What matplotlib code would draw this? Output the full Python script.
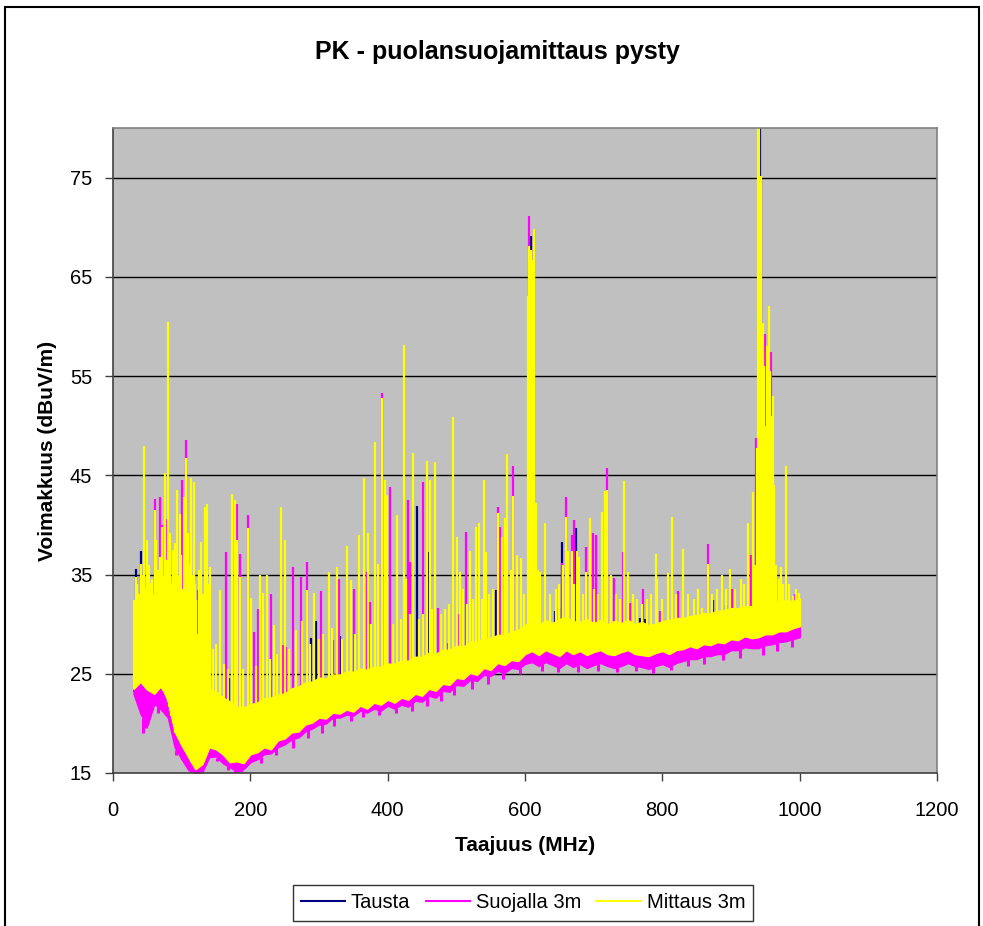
import numpy as np
import matplotlib
matplotlib.use("Agg")
import matplotlib.pyplot as plt
from matplotlib.lines import Line2D
from matplotlib.patches import Rectangle

plt.rcParams['font.family'] = ['Liberation Sans', 'DejaVu Sans']

# ---------------- data ----------------
title = "PK - puolansuojamittaus pysty"
x_label = "Taajuus (MHz)"
y_label = "Voimakkuus (dBuV/m)"
series_names = ["Tausta", "Suojalla 3m", "Mittaus 3m"]
x_ticks = [0, 200, 400, 600, 800, 1000, 1200]
y_ticks = [15, 25, 35, 45, 55, 65, 75]

freq_bins = list(range(30, 1001, 10))

# noise floor envelope (low / high) per 10 MHz bin
mittaus_lo = [23.5, 24.2, 23.4, 23.0, 23.8, 22.3, 19.2, 17.8, 16.6, 15.4, 15.9,
              17.6, 17.4, 16.9, 16.1, 16.2, 16.0, 16.9, 17.1, 17.6, 17.4,
              18.3, 18.5, 19.1, 19.2, 19.9, 20.1, 20.6, 20.5, 21.1, 21.0,
              21.4, 21.2, 21.8, 21.5, 22.1, 21.9, 22.4, 22.1, 22.6, 22.4,
              23.0, 22.8, 23.5, 23.3, 24.0, 23.9, 24.6, 24.5, 25.1, 24.9,
              25.6, 25.4, 26.1, 25.9, 26.4, 26.3, 27.0, 27.3, 26.9, 27.4,
              27.1, 26.8, 27.4, 27.0, 27.3, 26.9, 27.2, 27.4, 27.0, 26.9,
              27.2, 27.4, 27.0, 26.9, 26.8, 27.1, 27.3, 27.0, 27.4, 27.5,
              27.8, 27.6, 28.0, 27.9, 28.2, 28.1, 28.5, 28.4, 28.8, 28.6,
              28.7, 29.0, 29.0, 29.3, 29.3, 29.6, 29.8]
mittaus_hi = [31.5, 32.0, 30.5, 31.8, 30.2, 31.0, 29.0, 28.2, 26.8, 25.0, 24.2,
              23.6, 23.2, 22.6, 22.2, 21.7, 21.6, 21.9, 22.1, 22.5, 22.6,
              22.9, 23.0, 23.5, 23.7, 24.1, 24.2, 24.6, 24.5, 24.9, 24.9,
              25.2, 25.2, 25.5, 25.4, 25.7, 25.7, 26.0, 26.0, 26.3, 26.3,
              26.7, 26.7, 27.1, 27.0, 27.4, 27.4, 27.8, 27.7, 28.2, 28.2,
              28.6, 28.6, 28.9, 28.9, 29.2, 29.4, 29.9, 30.3, 29.9, 30.4,
              30.1, 30.5, 30.7, 30.3, 30.2, 30.5, 30.1, 30.4, 30.0, 30.3,
              30.1, 30.4, 30.0, 30.2, 29.9, 30.0, 30.3, 30.4, 30.6, 30.6,
              30.8, 30.9, 31.1, 31.1, 31.3, 31.4, 31.6, 31.6, 31.8, 31.8,
              32.0, 32.3, 32.0, 32.4, 32.4, 32.3, 32.6]
suojalla_lo = [23.0, 21.0, 19.8, 22.0, 21.4, 20.6, 17.6, 16.4, 15.3, 15.0, 15.1,
               16.6, 16.7, 16.0, 15.6, 15.2, 15.4, 16.1, 16.4, 16.9, 17.0,
               17.6, 17.9, 18.4, 18.6, 19.2, 19.5, 19.9, 20.0, 20.6, 20.6,
               20.9, 20.8, 21.3, 21.1, 21.5, 21.3, 21.8, 21.5, 21.9, 21.7,
               22.3, 22.2, 22.8, 22.6, 23.3, 23.2, 23.9, 23.8, 24.4, 24.3,
               24.9, 24.8, 25.3, 25.1, 25.6, 25.5, 26.0, 26.2, 25.8, 26.2,
               25.9, 25.6, 26.1, 25.7, 26.0, 25.6, 25.9, 26.1, 25.8, 25.6,
               25.8, 26.1, 25.8, 25.7, 25.5, 25.8, 26.0, 25.7, 26.1, 26.3,
               26.5, 26.5, 26.8, 26.8, 27.0, 27.0, 27.4, 27.4, 27.7, 27.6,
               27.6, 27.9, 28.0, 28.2, 28.3, 28.5, 28.7]
suojalla_hi = [30.5, 30.0, 29.5, 30.0, 29.0, 29.5, 27.0, 26.0, 24.5, 23.0, 22.5,
               22.0, 21.8, 21.2, 20.8, 20.5, 20.5, 20.8, 21.0, 21.4, 21.5,
               21.8, 22.0, 22.4, 22.6, 23.0, 23.2, 23.5, 23.5, 23.9, 23.9,
               24.1, 24.2, 24.4, 24.4, 24.6, 24.7, 24.9, 25.0, 25.2, 25.3,
               25.6, 25.7, 26.0, 26.0, 26.4, 26.4, 26.8, 26.7, 27.1, 27.2,
               27.5, 27.6, 27.8, 27.9, 28.1, 28.3, 28.7, 29.0, 28.7, 29.1,
               28.9, 29.2, 29.4, 29.0, 29.0, 29.2, 28.9, 29.1, 28.8, 29.0,
               28.9, 29.1, 28.8, 28.9, 28.7, 28.8, 29.0, 29.1, 29.3, 29.4,
               29.6, 29.7, 29.9, 29.9, 30.1, 30.2, 30.4, 30.4, 30.6, 30.6,
               30.8, 31.0, 30.8, 31.1, 31.2, 31.1, 31.3]
tausta_lo = [23.3, 23.6, 23.0, 22.6, 23.2, 21.2, 17.9, 16.8, 15.8, 15.2, 15.4,
             17.0, 17.0, 16.4, 15.8, 15.7, 15.8, 16.6, 16.9, 17.4, 17.3,
             18.1, 18.4, 18.9, 19.1, 19.8, 20.0, 20.5, 20.4, 21.0, 20.9,
             21.3, 21.1, 21.7, 21.4, 22.0, 21.8, 22.3, 22.0, 22.5, 22.3,
             22.9, 22.7, 23.4, 23.2, 23.9, 23.8, 24.5, 24.4, 25.0, 24.8,
             25.5, 25.3, 26.0, 25.8, 26.3, 26.2, 26.9, 27.2, 26.8, 27.3,
             27.0, 26.7, 27.3, 26.9, 27.2, 26.8, 27.1, 27.3, 26.9, 26.8,
             27.1, 27.3, 26.9, 26.8, 26.7, 27.0, 27.2, 26.9, 27.3, 27.4,
             27.7, 27.5, 27.9, 27.8, 28.1, 28.0, 28.4, 28.3, 28.7, 28.5,
             28.3, 28.9, 28.9, 29.2, 29.2, 29.5, 29.7]
tausta_hi = [31.8, 32.3, 30.3, 31.5, 30.0, 30.8, 29.5, 28.5, 27.0, 25.2, 24.5,
             23.4, 23.0, 22.4, 22.0, 21.5, 21.4, 21.7, 21.9, 22.3, 22.4,
             22.7, 22.8, 23.3, 23.5, 23.9, 24.0, 24.4, 24.3, 24.7, 24.7,
             25.0, 25.0, 25.3, 25.2, 25.5, 25.5, 25.8, 25.8, 26.1, 26.1,
             26.5, 26.5, 26.9, 26.8, 27.2, 27.2, 27.6, 27.5, 28.0, 28.0,
             28.4, 28.4, 28.7, 28.7, 29.0, 29.2, 29.7, 30.1, 29.7, 30.2,
             29.9, 30.3, 30.5, 30.1, 30.0, 30.3, 29.9, 30.2, 29.8, 30.1,
             29.9, 30.2, 29.8, 30.0, 29.7, 29.8, 30.1, 30.2, 30.4, 30.4,
             30.6, 30.7, 30.9, 30.9, 31.1, 31.2, 31.4, 31.4, 31.6, 31.6,
             31.8, 32.1, 31.8, 32.2, 32.2, 32.1, 32.4]

# narrow-band peaks (frequency MHz, level dBuV/m)
tausta_spike_f = [33, 40.3, 73, 92, 97, 104, 121, 169, 289, 295.6, 330.5, 443.2,
                  459.2, 557.3, 608.2, 643.7, 650, 653.4, 674.2, 767.4, 774.7,
                  844, 850, 874, 892.7, 919.4, 942.5, 943.5, 961.6]
tausta_spike_v = [35.6, 37.4, 33.4, 21.0, 20.5, 19.5, 28.0, 24.6, 28.6, 30.3, 28.8,
                  41.9, 37.3, 33.4, 69.1, 31.3, 31.6, 38.3, 39.7, 30.6, 30.5,
                  30.7, 30.7, 32.4, 31.9, 31.7, 85.0, 75.0, 32.2]

suojalla_spike_f = [60.7, 68, 72, 77.7, 101, 106, 124, 164, 180.6, 184.5, 196.6,
                    205, 211, 229.6, 247.6, 252, 262, 274, 282.5, 302.9, 320.8,
                    328.6, 351, 369.4, 374.2, 391.2, 403.4, 429, 432.5, 451.9,
                    473.7, 487.3, 502.9, 514, 560, 563.6, 583, 605.8, 611.1,
                    613.6, 653.4, 659.2, 668.9, 671.3, 688.8, 699.5, 703.4,
                    718.9, 730, 742.2, 752.9, 772.3, 796.6, 822.3, 866, 901,
                    928.6, 936.6, 950, 958, 973.7, 993]
suojalla_spike_v = [42.6, 42.8, 40.0, 40.6, 44.5, 48.6, 33.4, 37.3, 42.1, 37.1, 41.0,
                    29.2, 31.5, 33.0, 27.9, 27.7, 35.8, 34.8, 36.3, 33.3, 28.4,
                    34.6, 33.5, 35.3, 32.2, 53.3, 43.8, 42.5, 36.3, 44.3,
                    31.6, 28.1, 31.0, 39.3, 41.8, 39.8, 45.9, 71.1, 57.7,
                    69.8, 36.2, 42.8, 39.0, 40.5, 37.8, 39.2, 39.0,
                    45.7, 34.7, 37.3, 32.1, 33.5, 31.3, 33.3, 38.1, 33.5,
                    37.0, 48.8, 59.2, 57.4, 32.8, 33.0]
# short downward dips of the Suojalla noise floor
suojalla_dip_f = [44, 48, 57, 66, 92, 113, 128, 152, 168, 177, 186, 215, 238,
                  262, 284, 305, 322, 347, 364, 388, 412, 436, 457, 478, 497,
                  523, 546, 568, 592, 625, 648, 677, 706, 734, 762, 786, 812,
                  838, 861, 889, 913, 946, 967, 989]
suojalla_dip_v = [19.0, 19.5, 21.5, 21.0, 16.8, 15.0, 15.0, 16.2, 15.3, 15.0,
                  15.1, 16.0, 16.8, 17.5, 18.5, 19.0, 19.7, 20.2, 20.6, 20.8,
                  21.0, 21.2, 21.8, 22.3, 22.9, 23.5, 24.0, 24.5, 25.0, 25.3,
                  25.2, 25.2, 25.3, 25.2, 25.3, 25.1, 25.4, 25.8, 26.0, 26.4,
                  26.6, 26.9, 27.3, 27.7]

mittaus_spike_f = [30, 31.5, 33, 35, 36.5, 38, 40.3, 42, 43.5, 45, 46.5, 48, 50,
                   51, 52, 54, 55.5, 57, 58.5, 60.7, 62, 63, 65, 66.5, 68, 70,
                   71, 72, 73.5, 75, 76.5, 78, 80.6, 82, 83.5, 85, 86, 87.4,
                   88.5, 89.8, 91, 93.2, 95, 96, 97, 99, 100.5, 103, 104.5, 106,
                   107.5, 109, 111, 112.5, 114, 115.5, 117.5, 119, 121, 123,
                   125, 127, 128.6, 131, 133.5, 135, 137, 139, 141, 145, 150,
                   156, 162, 168, 173.8, 177, 181, 184.5, 190, 196.6, 201.4,
                   208, 213.6, 218.4, 224, 229, 234, 239, 244, 250, 256, 267,
                   274.7, 282, 287, 292.7, 300, 306, 315, 318.4, 325.7, 333,
                   340.3, 346, 352, 358.7, 366, 370.8, 376, 381, 385.4, 391.2,
                   396, 399.5, 408, 414, 419, 424.2, 426.7, 432, 437.3, 446,
                   451, 456.7, 461.6, 465, 469.4, 478, 484, 490, 494.6, 500.4,
                   505.3, 510, 515, 520, 524, 528, 533, 537, 540.2, 542.7, 548,
                   553, 560, 566, 570.8, 573.3, 579, 583, 588.8, 593.7, 598,
                   603.9, 605.3, 606.8, 608.2, 609.7, 611.1, 612.6, 613.6,
                   615.5, 618.4, 621.8, 629, 636, 645, 650, 655.8, 659.2, 663,
                   667.9, 672, 676.2, 679, 684, 688.8, 694.6, 700, 706, 711.6,
                   716.5, 719, 724.7, 732, 738, 744.6, 750.4, 757, 763, 770,
                   778, 784, 790.3, 792.7, 800, 807.7, 813.6, 820, 830.5, 838,
                   846, 852, 858.2, 866, 872, 880, 886.4, 893, 899, 906, 914,
                   919, 924.2, 931.5, 935, 938, 940, 941.2, 944, 946, 948, 950,
                   952, 955, 957, 959, 961, 963, 966, 970, 972.3, 976, 980, 985,
                   990.7, 995, 999]
mittaus_spike_v = [32.4, 30.0, 34.8, 34.0, 31.0, 33.0, 36.1, 35.0, 32.0, 48.0, 32.5,
                   33.5, 38.5, 31.5, 36.0, 34.1, 31.0, 34.5, 33.0, 41.5, 32.5,
                   38.5, 35.5, 33.0, 36.8, 33.8, 31.5, 39.8, 35.0, 45.2, 33.5,
                   36.5, 60.4, 33.0, 39.2, 34.0, 31.5, 37.5, 33.0, 38.2, 36.0,
                   43.5, 35.0, 32.0, 41.1, 37.0, 33.5, 42.8, 34.0, 46.7, 32.5,
                   39.2, 36.0, 31.0, 44.7, 35.0, 44.3, 34.0, 32.4, 29.0, 35.5,
                   30.5, 38.3, 33.0, 41.8, 30.0, 42.1, 34.0, 35.8, 27.5, 28.0,
                   33.4, 26.0, 25.5, 43.1, 42.5, 38.5, 34.8, 25.5, 39.7, 32.6,
                   25.8, 35.0, 33.1, 35.0, 26.5, 29.9, 27.0, 41.8, 38.5, 27.5,
                   29.4, 30.3, 33.4, 28.0, 33.1, 28.5, 29.0, 35.3, 29.6, 35.8,
                   28.5, 37.9, 34.4, 29.0, 39.0, 44.7, 39.2, 30.0, 48.4, 36.1,
                   52.8, 44.5, 43.0, 30.0, 41.0, 30.5, 58.1, 34.6, 31.0, 47.2,
                   30.5, 31.0, 46.4, 44.5, 31.5, 46.3, 31.0, 31.5, 32.0, 50.9,
                   38.8, 35.3, 33.5, 32.0, 37.4, 32.5, 39.8, 40.2, 32.5, 44.5,
                   37.3, 33.0, 33.5, 41.2, 38.8, 40.7, 47.1, 35.5, 42.9, 37.0,
                   36.7, 33.0, 63.1, 68.1, 66.0, 67.7, 66.7, 64.4, 68.7, 69.8,
                   42.2, 35.5, 35.3, 40.2, 33.0, 33.5, 34.0, 36.0, 40.8, 37.4,
                   37.4, 34.0, 37.4, 36.8, 33.0, 35.3, 40.7, 33.5, 33.0, 41.3,
                   43.4, 43.5, 35.0, 33.0, 32.5, 44.4, 35.3, 33.0, 32.5, 32.0,
                   32.5, 33.0, 37.1, 34.5, 32.5, 35.2, 40.8, 33.0, 37.6, 33.0,
                   32.5, 33.5, 31.6, 36.1, 33.0, 33.5, 35.0, 33.5, 35.6, 33.5,
                   34.6, 34.0, 40.2, 43.3, 36.0, 47.8, 85.0, 85.0, 75.2, 60.3,
                   56.0, 50.0, 58.0, 62.1, 55.5, 51.0, 53.0, 44.0, 36.0, 34.5,
                   35.8, 34.0, 45.9, 34.0, 32.8, 33.5, 33.1]

# ---------------- figure ----------------
W, H = 983, 926
fig = plt.figure(figsize=(W / 100, H / 100), dpi=100)
fig.patch.set_facecolor("white")

# outer chart border
fig.patches.append(Rectangle((5 / W, -0.01), (979 - 5) / W, 1 - 7 / H + 0.01,
                             transform=fig.transFigure, fill=False,
                             edgecolor="black", lw=1.5))

ax = fig.add_axes([113 / W, 1 - 773 / H, (937 - 113) / W, (773 - 128) / H])
ax.set_facecolor("#C0C0C0")
ax.set_xlim(0, 1200)
ax.set_ylim(15, 80)

for yv in y_ticks[1:]:
    ax.axhline(yv, color="black", lw=1.0, zorder=1)

colors = {"Tausta": "#000080", "Suojalla 3m": "#FF00FF", "Mittaus 3m": "#FFFF00"}
series = [
    ("Tausta", tausta_lo, tausta_hi, tausta_spike_f, tausta_spike_v, [], []),
    ("Suojalla 3m", suojalla_lo, suojalla_hi, suojalla_spike_f, suojalla_spike_v,
     suojalla_dip_f, suojalla_dip_v),
    ("Mittaus 3m", mittaus_lo, mittaus_hi, mittaus_spike_f, mittaus_spike_v, [], []),
]
fb = np.array(freq_bins, dtype=float)
z = 2
for name, lo, hi, sf, sv, df, dv in series:
    c = colors[name]
    lo = np.array(lo)
    hi = np.array(hi)
    ax.fill_between(fb, lo, hi, color=c, lw=1.2, edgecolor=c, zorder=z)
    sf = np.array(sf, dtype=float)
    ax.vlines(sf, np.interp(sf, fb, lo), np.array(sv), colors=c, lw=1.6,
              zorder=z + 0.5)
    if len(df):
        df = np.array(df, dtype=float)
        ax.vlines(df, np.array(dv), np.interp(df, fb, lo), colors=c, lw=2.2,
                  zorder=z + 0.5)
    z += 1

ax.set_xticks(x_ticks)
ax.set_yticks(y_ticks)
ax.tick_params(axis="both", direction="out", length=6, width=1, color="#404040",
               labelsize=14.5, labelcolor="black")
ax.tick_params(axis="x", pad=14)
ax.tick_params(axis="y", pad=9)
for s in ["top", "right"]:
    ax.spines[s].set_color("#808080")
for s in ["bottom", "left"]:
    ax.spines[s].set_color("#404040")
for s in ax.spines.values():
    s.set_linewidth(1.2)
    s.set_zorder(10)

ax.set_xlabel(x_label, fontsize=15, fontweight="bold", labelpad=12)
ax.set_ylabel(y_label, fontsize=15, fontweight="bold", labelpad=9)
fig.text(497 / W, 1 - 52 / H, title, fontsize=18, fontweight="bold",
         ha="center", va="center")

handles = [Line2D([], [], color=colors[n], lw=1.5) for n in series_names]
leg = fig.legend(handles, series_names, loc="center",
                 bbox_to_anchor=(523 / W, 1 - 903 / H), ncol=3, fontsize=14.5,
                 frameon=True, fancybox=False, edgecolor="black",
                 handlelength=2.2, handletextpad=0.3, columnspacing=0.75,
                 borderpad=0.4)
leg.get_frame().set_linewidth(1.0)

fig.savefig("out.png", dpi=100, facecolor="white")
